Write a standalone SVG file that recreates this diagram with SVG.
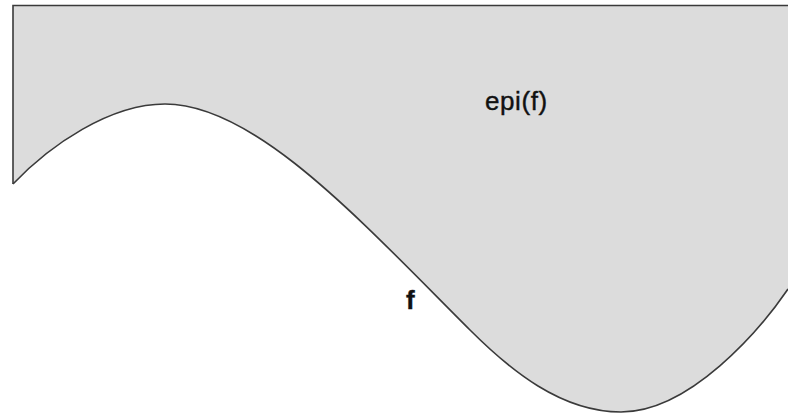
<svg xmlns="http://www.w3.org/2000/svg" width="788" height="417" viewBox="0 0 788 417">
<style>
.region{fill:#dcdcdc;stroke:none}
.edge{fill:none;stroke:#3a3a3a;stroke-width:1.6}
.lbl{font-family:"Liberation Sans",Arial,sans-serif;fill:#111;stroke:#111;stroke-width:0.4}
</style>
<rect width="788" height="417" fill="#ffffff"/>
<g id="epi">
<path class="region" d="M13,5 L788,5 L788,289 C760,330 690,412 621,412 C561,412 510,370 470,330 C360,220 255,104 165,104 C110,104 50,145 13,184 Z"/>
<path class="edge" d="M788,5.5 L13,5.5 L13,184"/>
<text class="lbl" x="485" y="110" font-size="26" letter-spacing="0.6">epi(f)</text>
</g>
<g id="f">
<path class="edge" d="M13,184 C50,145 110,104 165,104 C255,104 360,220 470,330 C510,370 561,412 621,412 C690,412 760,330 788,289"/>
<text class="lbl" x="406" y="309" font-size="26" font-weight="bold">f</text>
</g>
</svg>
